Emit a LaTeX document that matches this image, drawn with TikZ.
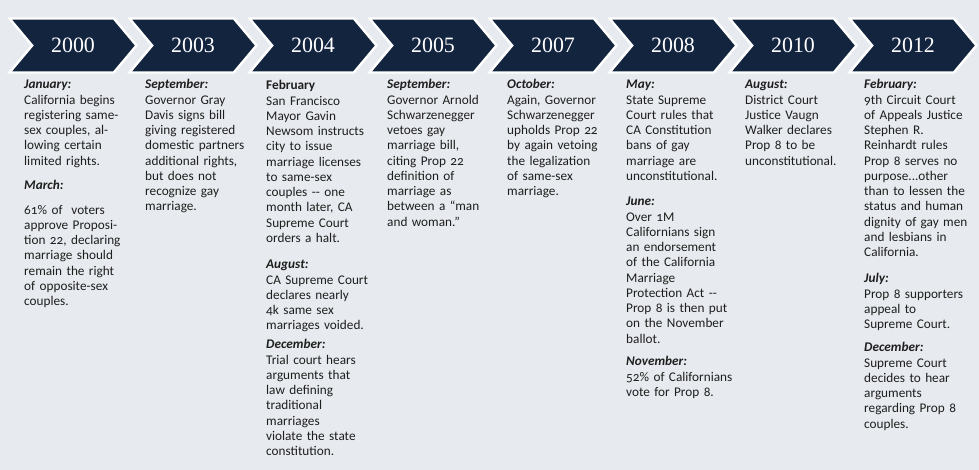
\documentclass[tikz,border=0pt]{standalone}
\usepackage{fontspec}
\setmainfont{Carlito}[Numbers=OldStyle]
\newfontfamily\yearfont{Liberation Serif}
\usetikzlibrary{shapes.symbols}
\definecolor{bggray}{HTML}{E7EAEE}
\definecolor{navy}{HTML}{13243F}
\definecolor{ink}{HTML}{1E1E1E}
\newcommand{\when}[1]{\textbf{\textit{#1}}}
\tikzset{
  yearbox/.style = {shape=signal, signal from=west, signal to=east, signal pointer angle=100,
    fill=navy, draw=white, line width=2.4bp, minimum width=127bp, minimum height=54bp,
    inner sep=0pt, text=white, font=\yearfont\fontsize{22}{22}\selectfont},
  event/.style = {anchor=base west, inner sep=0pt, text width=118bp, align=left,
    text=ink, font=\fontsize{13.3}{15.3}\selectfont}
}
\begin{document}
\begin{tikzpicture}[x=1bp,y=-1bp]
        \fill[bggray] (0,0) rectangle (979,470);
        \useasboundingbox (0,0) rectangle (979,470);
        % year chevrons
        \node[yearbox] (y2000) at (73,45.5) {2000};
        \node[yearbox] (y2003) at (193,45.5) {2003};
        \node[yearbox] (y2004) at (313,45.5) {2004};
        \node[yearbox] (y2005) at (433,45.5) {2005};
        \node[yearbox] (y2007) at (553,45.5) {2007};
        \node[yearbox] (y2008) at (673,45.5) {2008};
        \node[yearbox] (y2010) at (793,45.5) {2010};
        \node[yearbox] (y2012) at (913,45.5) {2012};
        % 2000
        \node[event] (jan2000) at (24,89) {\when{January:}\\California begins\\registering same-\\sex couples, al-\\lowing certain\\limited rights.};
        \node[event] (mar2000) at (24,190) {\when{March:}\\[9bp]61\% of\ \ voters\\approve Proposi-\\tion 22, declaring\\marriage should\\remain the right\\of opposite-sex\\couples.};
        % 2003
        \node[event] (sep2003) at (145,89) {\when{September:}\\Governor Gray\\Davis signs bill\\giving registered\\domestic partners\\additional rights,\\but does not\\recognize gay\\marriage.};
        % 2004
        \node[event] (feb2004) at (266,90) {\textbf{February}\\San Francisco\\Mayor Gavin\\Newsom instructs\\city to issue\\marriage licenses\\to same-sex\\couples -{}- one\\month later, CA\\Supreme Court\\orders a halt.};
        \node[event] (aug2004) at (266,269) {\when{August:}\\CA Supreme Court\\declares nearly\\4k same sex\\marriages voided.};
        \node[event] (dec2004) at (266,349) {\when{December:}\\Trial court hears\\arguments that\\law defining\\traditional\\marriages\\violate the state\\constitution.};
        % 2005
        \node[event] (sep2005) at (387,89) {\when{September:}\\Governor Arnold\\Schwarzenegger\\vetoes gay\\marriage bill,\\citing Prop 22\\definition of\\marriage as\\between a “man\\and woman.”};
        % 2007
        \node[event] (oct2007) at (507,89) {\when{October:}\\Again, Governor\\Schwarzenegger\\upholds Prop 22\\by again vetoing\\the legalization\\of same-sex\\marriage.};
        % 2008
        \node[event] (may2008) at (626,89) {\when{May:}\\State Supreme\\Court rules that\\CA Constitution\\bans of gay\\marriage are\\unconstitutional.};
        \node[event] (jun2008) at (626,206) {\when{June:}\\Over 1M\\Californians sign\\an endorsement\\of the California\\Marriage\\Protection Act -{}-\\Prop 8 is then put\\on the November\\ballot.};
        \node[event] (nov2008) at (626,366) {\when{November:}\\52\% of Californians\\vote for Prop 8.};
        % 2010
        \node[event] (aug2010) at (745,89) {\when{August:}\\District Court\\Justice Vaugn\\Walker declares\\Prop 8 to be\\unconstitutional.};
        % 2012
        \node[event] (feb2012) at (864,89) {\when{February:}\\9th Circuit Court\\of Appeals Justice\\Stephen R.\\Reinhardt rules\\Prop 8 serves no\\purpose...other\\than to lessen the\\status and human\\dignity of gay men\\and lesbians in\\California.};
        \node[event] (jul2012) at (864,283) {\when{July:}\\Prop 8 supporters\\appeal to\\Supreme Court.};
        \node[event] (dec2012) at (864,352) {\when{December:}\\Supreme Court\\decides to hear\\arguments\\regarding Prop 8\\couples.};
\end{tikzpicture}
\end{document}
